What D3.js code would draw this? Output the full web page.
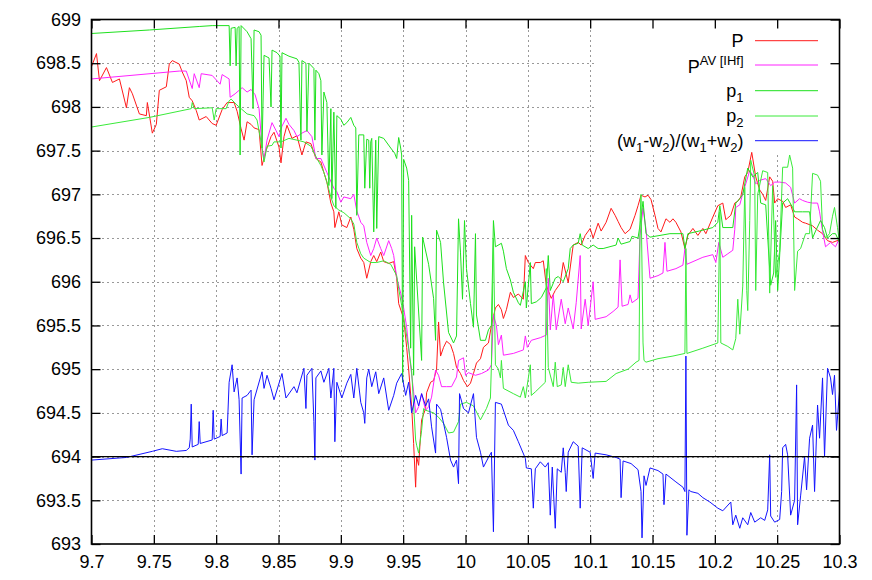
<!DOCTYPE html>
<html>
<head>
<meta charset="utf-8">
<script src="https://cdn.jsdelivr.net/npm/d3@7"></script>
<style>
  body { margin: 0; background: #fff; }
  svg { display: block; font-family: "Liberation Sans", Arial, Helvetica, sans-serif; }
</style>
</head>
<body>
<div id="chart"></div>
<script>
// axis ticks
const xTicks = [9.7, 9.75, 9.8, 9.85, 9.9, 9.95, 10, 10.05, 10.1, 10.15, 10.2, 10.25, 10.3];
const yTicks = [693, 693.5, 694, 694.5, 695, 695.5, 696, 696.5, 697, 697.5, 698, 698.5, 699];
const refLevel = 694;

// P
const seriesP = [
  [9.7000,698.46],[9.7040,698.61],[9.7064,698.30],[9.7120,698.45],[9.7168,698.28],[9.7224,698.32],
  [9.7280,697.99],[9.7304,698.22],[9.7328,698.15],[9.7384,697.92],[9.7440,697.90],[9.7448,698.05],
  [9.7488,697.70],[9.7520,697.80],[9.7544,698.19],[9.7600,698.23],[9.7624,698.49],[9.7648,698.53],
  [9.7704,698.49],[9.7728,698.40],[9.7760,698.30],[9.7784,698.11],[9.7808,698.07],[9.7840,697.96],
  [9.7864,697.85],[9.7920,697.89],[9.7968,697.81],[9.8000,697.79],[9.8048,697.97],[9.8088,698.05],
  [9.8144,698.05],[9.8168,697.95],[9.8200,697.75],[9.8224,697.62],[9.8248,697.83],[9.8280,697.80],
  [9.8304,697.76],[9.8344,697.74],[9.8368,697.33],[9.8400,697.50],[9.8440,697.66],[9.8464,697.71],
  [9.8504,697.54],[9.8520,697.36],[9.8544,697.66],[9.8568,697.79],[9.8608,697.64],[9.8648,697.67],
  [9.8688,697.45],[9.8720,697.60],[9.8760,697.58],[9.8800,697.41],[9.8840,697.37],[9.8864,697.25],
  [9.8888,697.14],[9.8920,696.90],[9.8944,696.80],[9.8952,696.62],[9.8984,696.80],[9.9008,696.65],
  [9.9048,696.62],[9.9080,696.74],[9.9104,696.60],[9.9128,696.38],[9.9160,696.27],[9.9184,696.22],
  [9.9208,696.04],[9.9240,696.23],[9.9264,696.30],[9.9288,696.23],[9.9320,696.34],[9.9344,696.23],
  [9.9384,696.21],[9.9424,696.23],[9.9448,696.04],[9.9464,695.75],[9.9504,695.58],[9.9528,695.25],
  [9.9544,695.00],[9.9568,694.57],[9.9584,694.15],[9.9600,693.65],[9.9608,694.00],[9.9624,693.90],
  [9.9640,694.25],[9.9648,694.42],[9.9680,694.55],[9.9688,694.73],[9.9720,694.85],[9.9744,694.87],
  [9.9768,695.00],[9.9784,695.54],[9.9800,695.15],[9.9824,695.25],[9.9848,695.32],[9.9880,695.28],
  [9.9904,695.18],[9.9928,695.02],[9.9960,694.95],[9.9984,694.87],[10.0016,694.80],[10.0040,694.84],
  [10.0064,694.95],[10.0088,695.07],[10.0120,695.12],[10.0144,695.25],[10.0184,695.30],[10.0208,695.50],
  [10.0240,695.70],[10.0264,695.74],[10.0288,695.68],[10.0304,695.58],[10.0328,695.68],[10.0360,695.88],
  [10.0384,695.82],[10.0424,695.86],[10.0464,695.80],[10.0480,696.30],[10.0504,696.22],[10.0544,696.15],
  [10.0560,696.22],[10.0600,696.22],[10.0624,696.24],[10.0648,695.96],[10.0688,695.81],[10.0720,695.90],
  [10.0760,695.98],[10.0784,696.22],[10.0824,695.99],[10.0864,696.42],[10.0904,696.45],[10.0928,696.42],
  [10.0960,696.53],[10.1000,696.61],[10.1024,696.50],[10.1064,696.67],[10.1088,696.58],[10.1128,696.68],
  [10.1168,696.84],[10.1200,696.76],[10.1224,696.69],[10.1248,696.62],[10.1280,696.55],[10.1320,696.60],
  [10.1360,696.76],[10.1384,696.87],[10.1408,696.99],[10.1440,696.97],[10.1464,696.99],[10.1488,696.94],
  [10.1520,696.76],[10.1544,696.61],[10.1568,696.57],[10.1608,696.72],[10.1640,696.68],[10.1664,696.72],
  [10.1688,696.68],[10.1728,696.57],[10.1760,696.38],[10.1784,696.53],[10.1824,696.61],[10.1864,696.53],
  [10.1904,696.61],[10.1928,696.55],[10.1984,696.74],[10.2024,696.87],[10.2064,696.90],[10.2088,696.71],
  [10.2104,696.73],[10.2128,696.76],[10.2160,696.90],[10.2184,696.92],[10.2208,696.97],[10.2240,697.20],
  [10.2264,697.25],[10.2296,697.48],[10.2328,697.20],[10.2360,697.05],[10.2384,697.00],[10.2408,696.93],
  [10.2440,697.20],[10.2464,697.15],[10.2480,696.90],[10.2504,696.95],[10.2544,696.92],[10.2568,696.85],
  [10.2608,696.88],[10.2640,696.74],[10.2664,696.72],[10.2704,696.68],[10.2728,696.67],[10.2784,696.64],
  [10.2824,696.59],[10.2864,696.55],[10.2904,696.47],[10.2944,696.45],[10.3000,696.48]
];

// P^AV [IHf]
const seriesPAV = [
  [9.7000,698.32],[9.7704,698.41],[9.7760,698.41],[9.7808,698.21],[9.7824,698.38],[9.7864,698.22],
  [9.7880,698.38],[9.7968,698.36],[9.8032,698.26],[9.8048,698.37],[9.8104,698.32],[9.8112,698.11],
  [9.8152,698.15],[9.8184,698.19],[9.8208,698.22],[9.8248,698.17],[9.8280,698.20],[9.8312,698.14],
  [9.8344,697.98],[9.8368,697.54],[9.8384,697.40],[9.8408,697.62],[9.8448,697.82],[9.8480,697.73],
  [9.8504,697.66],[9.8528,697.78],[9.8560,697.87],[9.8584,697.80],[9.8624,697.73],[9.8648,697.66],
  [9.8688,697.70],[9.8728,697.73],[9.8768,697.66],[9.8800,697.41],[9.8840,697.41],[9.8888,697.25],
  [9.8944,697.07],[9.8968,697.03],[9.9000,696.91],[9.9024,696.97],[9.9080,696.95],[9.9104,697.00],
  [9.9128,696.81],[9.9160,696.68],[9.9184,696.64],[9.9208,696.45],[9.9240,696.30],[9.9264,696.38],
  [9.9288,696.50],[9.9320,696.38],[9.9344,696.30],[9.9384,696.47],[9.9408,696.38],[9.9424,696.30],
  [9.9448,696.05],[9.9480,695.87],[9.9504,695.70],[9.9528,695.48],[9.9552,695.14],[9.9584,694.74],
  [9.9600,694.50],[9.9624,694.57],[9.9648,694.72],[9.9680,694.53],[9.9704,694.57],[9.9728,694.68],
  [9.9760,694.99],[9.9784,694.93],[9.9808,694.80],[9.9848,694.80],[9.9888,694.80],[9.9928,694.91],
  [9.9944,695.10],[9.9984,695.13],[10.0000,694.93],[10.0024,694.96],[10.0080,694.93],[10.0128,694.95],
  [10.0184,694.99],[10.0208,695.05],[10.0224,695.62],[10.0248,695.50],[10.0264,695.28],[10.0288,695.39],
  [10.0304,695.16],[10.0384,695.18],[10.0464,695.22],[10.0480,695.38],[10.0496,695.25],[10.0528,695.33],
  [10.0600,695.36],[10.0648,695.39],[10.0664,696.04],[10.0680,695.45],[10.0704,695.85],[10.0728,695.45],
  [10.0768,695.80],[10.0800,695.52],[10.0824,695.70],[10.0864,695.46],[10.0888,695.76],[10.0920,696.30],
  [10.0928,695.46],[10.0960,695.80],[10.0984,695.50],[10.1024,696.00],[10.1040,695.57],[10.1128,695.60],
  [10.1184,695.66],[10.1224,695.71],[10.1240,696.25],[10.1256,695.72],[10.1304,695.74],[10.1320,695.85],
  [10.1336,695.76],[10.1384,695.81],[10.1400,696.53],[10.1424,696.84],[10.1448,696.60],[10.1480,696.04],
  [10.1544,696.07],[10.1584,696.10],[10.1600,696.45],[10.1616,696.12],[10.1688,696.15],[10.1744,696.19],
  [10.1760,696.38],[10.1776,696.20],[10.1904,696.28],[10.1984,696.31],[10.2008,696.22],[10.2032,696.45],
  [10.2064,696.28],[10.2104,696.32],[10.2144,696.36],[10.2160,696.60],[10.2168,696.85],[10.2200,696.88],
  [10.2224,697.01],[10.2248,697.12],[10.2280,697.27],[10.2304,697.22],[10.2328,697.12],[10.2360,697.16],
  [10.2408,697.18],[10.2448,697.10],[10.2480,697.14],[10.2520,697.14],[10.2568,697.13],[10.2608,697.08],
  [10.2640,696.90],[10.2680,696.95],[10.2704,696.93],[10.2744,696.91],[10.2784,696.90],[10.2824,696.90],
  [10.2840,696.80],[10.2864,696.58],[10.2888,696.40],[10.2928,696.45],[10.2968,696.40],[10.3000,696.50]
];

// p1
const seriesP1 = [
  [9.7000,698.84],[9.7464,698.88],[9.7864,698.92],[9.7968,698.93],[9.8104,698.93],[9.8112,698.47],
  [9.8120,698.90],[9.8152,698.91],[9.8160,698.47],[9.8168,698.90],[9.8184,698.92],[9.8192,697.45],
  [9.8200,698.93],[9.8248,698.86],[9.8280,698.78],[9.8296,697.98],[9.8304,698.88],[9.8344,698.86],
  [9.8360,698.82],[9.8368,697.53],[9.8384,698.59],[9.8424,698.56],[9.8440,698.00],[9.8448,698.65],
  [9.8488,698.62],[9.8512,698.58],[9.8520,697.53],[9.8528,698.62],[9.8584,698.58],[9.8648,698.55],
  [9.8664,698.51],[9.8680,697.62],[9.8688,698.53],[9.8720,698.50],[9.8728,697.72],[9.8744,698.50],
  [9.8784,698.44],[9.8792,697.62],[9.8800,698.42],[9.8824,698.38],[9.8840,698.30],[9.8848,697.45],
  [9.8864,698.17],[9.8888,698.05],[9.8904,697.10],[9.8920,697.98],[9.8928,696.95],[9.8944,697.94],
  [9.8960,696.84],[9.8968,697.90],[9.9000,697.86],[9.9024,697.79],[9.9048,697.82],[9.9080,697.88],
  [9.9104,697.79],[9.9120,697.76],[9.9128,696.76],[9.9144,697.68],[9.9184,697.68],[9.9192,697.07],
  [9.9208,697.63],[9.9224,697.62],[9.9232,697.07],[9.9240,697.60],[9.9248,697.64],[9.9264,696.57],
  [9.9280,697.62],[9.9288,696.61],[9.9304,697.66],[9.9344,697.64],[9.9400,697.53],[9.9432,697.47],
  [9.9448,697.41],[9.9464,697.65],[9.9480,697.53],[9.9488,697.45],[9.9496,694.85],[9.9504,697.40],
  [9.9528,697.30],[9.9544,697.16],[9.9560,695.24],[9.9568,696.76],[9.9584,694.93],[9.9592,696.40],
  [9.9648,695.10],[9.9656,696.51],[9.9704,696.20],[9.9744,695.81],[9.9760,695.33],[9.9768,696.59],
  [9.9800,696.45],[9.9824,695.99],[9.9864,695.42],[9.9904,695.30],[9.9928,695.38],[9.9944,696.72],
  [9.9960,696.33],[9.9976,695.80],[9.9992,696.70],[10.0008,696.15],[10.0040,695.75],[10.0064,695.48],
  [10.0080,696.55],[10.0088,695.62],[10.0120,695.33],[10.0160,695.33],[10.0184,695.45],[10.0208,695.50],
  [10.0224,696.70],[10.0240,696.40],[10.0288,696.44],[10.0304,696.35],[10.0328,696.15],[10.0360,696.02],
  [10.0384,695.88],[10.0424,695.76],[10.0440,695.73],[10.0480,696.00],[10.0488,695.70],[10.0520,696.22],
  [10.0528,695.75],[10.0568,695.77],[10.0608,695.82],[10.0648,695.93],[10.0664,696.30],[10.0680,695.90],
  [10.0720,696.04],[10.0744,696.06],[10.0784,696.00],[10.0824,696.15],[10.0840,696.38],[10.0864,696.42],
  [10.0904,696.44],[10.0920,696.55],[10.0936,696.42],[10.0984,696.38],[10.1024,696.42],[10.1064,696.38],
  [10.1104,696.38],[10.1208,696.42],[10.1224,696.50],[10.1248,696.43],[10.1320,696.46],[10.1336,696.52],
  [10.1384,696.50],[10.1400,696.65],[10.1424,696.92],[10.1448,696.55],[10.1480,696.51],[10.1640,696.55],
  [10.1744,696.55],[10.1760,696.38],[10.1784,696.55],[10.1904,696.59],[10.1984,696.62],[10.2024,696.68],
  [10.2040,696.87],[10.2064,696.62],[10.2144,696.62],[10.2168,696.90],[10.2200,696.95],[10.2224,697.00],
  [10.2264,697.30],[10.2304,697.20],[10.2344,697.25],[10.2368,696.90],[10.2408,696.88],[10.2448,695.96],
  [10.2472,696.10],[10.2488,696.70],[10.2504,695.90],[10.2544,696.90],[10.2584,696.95],[10.2624,696.85],
  [10.2640,696.80],[10.2704,696.80],[10.2760,696.80],[10.2784,696.50],[10.2808,696.58],[10.2848,696.70],
  [10.2880,696.62],[10.2904,696.50],[10.2944,696.55],[10.2968,696.55],[10.3000,696.45]
];

// p2
const seriesP2 = [
  [9.7000,697.77],[9.7464,697.88],[9.7800,697.98],[9.7808,698.05],[9.7824,697.98],[9.7968,697.99],
  [9.7984,697.85],[9.8000,697.98],[9.8080,697.98],[9.8104,698.07],[9.8120,698.09],[9.8160,698.03],
  [9.8200,697.98],[9.8248,697.92],[9.8304,697.90],[9.8328,697.85],[9.8360,697.60],[9.8384,697.37],
  [9.8408,697.55],[9.8448,697.56],[9.8464,697.60],[9.8520,697.60],[9.8584,697.64],[9.8648,697.62],
  [9.8704,697.60],[9.8760,697.55],[9.8808,697.41],[9.8840,697.33],[9.8864,697.25],[9.8888,697.14],
  [9.8920,696.97],[9.8944,696.87],[9.8984,696.82],[9.9024,696.79],[9.9080,696.72],[9.9104,696.66],
  [9.9128,696.45],[9.9160,696.32],[9.9184,696.27],[9.9240,696.22],[9.9288,696.22],[9.9344,696.24],
  [9.9400,696.20],[9.9448,696.07],[9.9464,695.92],[9.9488,695.73],[9.9520,695.45],[9.9544,695.24],
  [9.9568,694.98],[9.9600,694.19],[9.9608,694.13],[9.9624,694.04],[9.9648,694.30],[9.9664,694.55],
  [9.9680,694.53],[9.9744,694.50],[9.9784,694.45],[9.9824,694.38],[9.9864,694.27],[9.9904,694.28],
  [9.9944,694.40],[9.9960,694.60],[10.0008,694.62],[10.0064,694.58],[10.0120,694.42],[10.0168,694.55],
  [10.0200,694.67],[10.0208,695.05],[10.0224,696.50],[10.0240,695.05],[10.0264,695.00],[10.0280,694.90],
  [10.0288,695.10],[10.0304,694.78],[10.0384,694.72],[10.0440,694.68],[10.0464,694.80],[10.0480,694.67],
  [10.0520,695.05],[10.0528,694.70],[10.0560,694.74],[10.0640,694.85],[10.0648,696.15],[10.0664,695.02],
  [10.0704,694.80],[10.0720,695.08],[10.0736,694.80],[10.0768,694.82],[10.0784,695.02],[10.0800,694.80],
  [10.0824,695.05],[10.0848,694.85],[10.0904,694.84],[10.0984,694.85],[10.1128,694.86],[10.1208,694.95],
  [10.1304,695.00],[10.1368,695.08],[10.1392,695.10],[10.1400,696.70],[10.1408,697.00],[10.1424,695.30],
  [10.1432,695.10],[10.1448,695.08],[10.1544,695.12],[10.1664,695.15],[10.1760,695.18],[10.1768,696.38],
  [10.1776,695.18],[10.1904,695.24],[10.2024,695.30],[10.2040,696.80],[10.2048,695.30],[10.2104,695.26],
  [10.2144,695.22],[10.2168,695.35],[10.2184,695.80],[10.2200,695.40],[10.2224,695.95],[10.2240,697.08],
  [10.2256,695.90],[10.2264,695.67],[10.2280,696.70],[10.2288,697.39],[10.2320,697.20],[10.2328,695.90],
  [10.2344,697.00],[10.2384,697.27],[10.2424,697.25],[10.2440,695.87],[10.2464,697.10],[10.2488,696.05],
  [10.2520,696.35],[10.2544,697.31],[10.2584,697.31],[10.2600,697.45],[10.2624,697.30],[10.2640,695.90],
  [10.2664,696.35],[10.2688,696.38],[10.2728,696.55],[10.2760,696.55],[10.2784,697.24],[10.2824,697.22],
  [10.2848,697.15],[10.2864,696.60],[10.2888,696.50],[10.2920,696.55],[10.2944,696.75],[10.2960,696.85],
  [10.2984,696.62],[10.3000,696.45]
];

// (w1-w2)/(w1+w2)
const seriesW = [
  [9.7000,693.96],[9.7280,693.99],[9.7488,694.06],[9.7568,694.09],[9.7680,694.06],[9.7760,694.07],
  [9.7784,694.10],[9.7792,694.20],[9.7800,694.60],[9.7808,694.11],[9.7856,694.14],[9.7864,694.40],
  [9.7872,694.15],[9.7968,694.19],[9.7976,694.53],[9.7984,694.20],[9.8032,694.23],[9.8040,694.43],
  [9.8048,694.24],[9.8088,694.27],[9.8104,694.85],[9.8128,695.05],[9.8144,694.74],[9.8168,694.90],
  [9.8184,694.65],[9.8200,693.80],[9.8208,694.67],[9.8248,694.70],[9.8280,694.76],[9.8288,694.02],
  [9.8304,694.65],[9.8368,694.97],[9.8384,694.78],[9.8408,694.93],[9.8440,694.78],[9.8464,694.65],
  [9.8528,694.95],[9.8560,694.67],[9.8624,694.80],[9.8648,694.73],[9.8704,695.01],[9.8720,694.55],
  [9.8728,694.93],[9.8768,695.01],[9.8784,694.40],[9.8792,693.96],[9.8800,694.90],[9.8840,694.98],
  [9.8864,694.85],[9.8904,695.01],[9.8920,694.67],[9.8944,695.01],[9.8952,694.17],[9.8968,694.85],
  [9.9008,694.67],[9.9048,694.84],[9.9080,694.94],[9.9104,694.67],[9.9128,695.01],[9.9160,694.62],
  [9.9184,694.50],[9.9192,694.38],[9.9208,694.90],[9.9224,695.00],[9.9248,694.80],[9.9280,694.97],
  [9.9304,694.72],[9.9344,694.90],[9.9384,694.53],[9.9424,694.70],[9.9448,694.84],[9.9488,694.95],
  [9.9520,694.70],[9.9544,694.85],[9.9568,694.50],[9.9600,694.70],[9.9624,694.58],[9.9648,694.72],
  [9.9680,694.58],[9.9704,694.66],[9.9728,694.34],[9.9760,694.04],[9.9768,694.60],[9.9800,694.54],
  [9.9848,694.22],[9.9880,693.96],[9.9904,693.88],[9.9928,693.96],[9.9944,693.69],[9.9952,694.72],
  [9.9984,694.55],[10.0024,694.50],[10.0064,694.72],[10.0088,694.22],[10.0120,694.05],[10.0144,693.88],
  [10.0184,693.99],[10.0208,694.05],[10.0224,693.14],[10.0240,694.62],[10.0288,694.60],[10.0344,694.36],
  [10.0384,694.30],[10.0424,694.17],[10.0480,693.98],[10.0488,693.87],[10.0528,693.86],[10.0544,693.41],
  [10.0560,693.86],[10.0600,693.94],[10.0640,693.88],[10.0664,693.93],[10.0680,693.33],[10.0696,693.88],
  [10.0720,693.18],[10.0736,693.86],[10.0768,693.82],[10.0784,694.10],[10.0800,693.82],[10.0808,693.60],
  [10.0824,694.05],[10.0864,694.17],[10.0904,694.12],[10.0920,693.41],[10.0936,694.10],[10.1000,694.05],
  [10.1024,693.75],[10.1040,694.04],[10.1128,694.02],[10.1208,693.99],[10.1240,693.97],[10.1248,693.53],
  [10.1264,693.95],[10.1328,693.92],[10.1360,693.88],[10.1384,693.85],[10.1408,693.60],[10.1416,693.07],
  [10.1432,693.78],[10.1448,693.67],[10.1480,693.87],[10.1544,693.84],[10.1584,693.80],[10.1592,693.45],
  [10.1608,693.80],[10.1688,693.71],[10.1744,693.65],[10.1760,693.60],[10.1768,695.15],[10.1776,693.10],
  [10.1792,693.62],[10.1808,693.60],[10.1864,693.58],[10.1904,693.53],[10.1960,693.48],[10.2024,693.41],
  [10.2064,693.38],[10.2128,693.48],[10.2144,693.22],[10.2168,693.33],[10.2200,693.18],[10.2224,693.30],
  [10.2264,693.22],[10.2288,693.36],[10.2320,693.25],[10.2368,693.30],[10.2400,693.27],[10.2424,693.39],
  [10.2440,694.02],[10.2448,693.32],[10.2480,693.25],[10.2520,693.28],[10.2536,693.60],[10.2544,694.10],
  [10.2568,694.14],[10.2584,694.02],[10.2608,693.33],[10.2640,693.50],[10.2656,694.82],[10.2664,693.22],
  [10.2688,693.55],[10.2720,694.00],[10.2736,693.62],[10.2760,694.21],[10.2784,694.36],[10.2800,693.60],
  [10.2824,694.59],[10.2840,694.21],[10.2864,694.90],[10.2880,694.00],[10.2904,695.01],[10.2928,694.90],
  [10.2944,694.71],[10.2960,694.93],[10.2976,694.30],[10.3000,694.75]
];

const seriesList = [seriesP, seriesPAV, seriesP1, seriesP2, seriesW];
const seriesColors = ["#ff1a1a", "#ff22ff", "#1ee01e", "#3aea3a", "#1414ff"];
// legend labels, split into normal / sub / sup parts
const legendLabels = [
  [["P", ""]],
  [["P", ""], ["AV [IHf]", "sup"]],
  [["p", ""], ["1", "sub"]],
  [["p", ""], ["2", "sub"]],
  [["(w", ""], ["1", "sub"], ["-w", ""], ["2", "sub"], [")/(w", ""], ["1", "sub"], ["+w", ""], ["2", "sub"], [")", ""]]
];

class TracePlot {
    constructor(container) {
        this.container = container;
        this.init();
    }

    init() {
        this.margin = { top: 19.5, right: 32.5, bottom: 36, left: 91.5 };
        this.width = 748;
        this.height = 524.5;

        this.createSvg();
        this.createScales();
        this.render();
    }

    createSvg() {
        this.svg = d3.select(this.container)
            .append("svg")
            .attr("width", this.width + this.margin.left + this.margin.right)
            .attr("height", this.height + this.margin.top + this.margin.bottom)
            .append("g")
            .attr("transform", `translate(${this.margin.left},${this.margin.top})`);
    }

    createScales() {
        this.xScale = d3.scaleLinear().domain([9.7, 10.3]).range([0, this.width]);
        this.yScale = d3.scaleLinear().domain([693, 699]).range([this.height, 0]);
    }

    render() {
        const x = this.xScale, y = this.yScale;

        this.svg.append("defs")
            .append("clipPath")
            .attr("id", "plot-area")
            .append("rect")
            .attr("width", this.width)
            .attr("height", this.height);

        // dotted grid, snapped to whole pixels so the dots stay crisp
        const snapX = v => Math.round(x(v) + this.margin.left) + 0.5 - this.margin.left;
        const snapY = v => Math.round(y(v) + this.margin.top) + 0.5 - this.margin.top;
        const grid = this.svg.append("g")
            .attr("stroke", "#999")
            .attr("stroke-width", 1)
            .attr("stroke-dasharray", "2,3")
            .attr("shape-rendering", "crispEdges");
        grid.selectAll(".gy")
            .data(yTicks.slice(1, -1))
            .enter().append("line")
            .attr("x1", 0).attr("x2", this.width)
            .attr("y1", snapY).attr("y2", snapY);
        grid.selectAll(".gx")
            .data(xTicks.slice(1, -1))
            .enter().append("line")
            .attr("x1", snapX).attr("x2", snapX)
            .attr("y1", 0).attr("y2", this.height);

        // key area hides the grid
        this.svg.append("rect")
            .attr("x", 502.5).attr("y", 0)
            .attr("width", this.width - 502.5).attr("height", 132.5)
            .attr("fill", "#fff");

        const line = d3.line().x(d => x(d[0])).y(d => y(d[1]));
        const plotArea = this.svg.append("g").attr("clip-path", "url(#plot-area)");

        plotArea.selectAll(".trace")
            .data(seriesList)
            .enter().append("path")
            .attr("d", line)
            .attr("fill", "none")
            .attr("stroke", (d, i) => seriesColors[i])
            .attr("stroke-width", 1)
            .attr("stroke-linejoin", "round");

        plotArea.append("line")
            .attr("x1", 0).attr("x2", this.width)
            .attr("y1", y(refLevel)).attr("y2", y(refLevel))
            .attr("stroke", "#000")
            .attr("stroke-width", 1.4);

        // axes: inward ticks on all sides
        const fmt = d => String(+d.toFixed(2));
        const styleAxis = g => {
            g.select(".domain").remove();
            g.selectAll(".tick line").attr("stroke", "#000").attr("stroke-width", 1.3);
            g.selectAll("text").attr("font-size", 18).attr("fill", "#000")
                .attr("font-family", "\"Liberation Sans\", Arial, sans-serif");
        };

        this.svg.append("g")
            .attr("transform", `translate(0,${this.height})`)
            .call(d3.axisBottom(x).tickValues(xTicks).tickFormat(fmt).tickSize(-9).tickPadding(11))
            .call(styleAxis);
        this.svg.append("g")
            .call(d3.axisTop(x).tickValues(xTicks).tickFormat("").tickSize(-9))
            .call(styleAxis);
        this.svg.append("g")
            .call(d3.axisLeft(y).tickValues(yTicks).tickFormat(fmt).tickSize(-9).tickPadding(10.5))
            .call(styleAxis);
        this.svg.append("g")
            .attr("transform", `translate(${this.width},0)`)
            .call(d3.axisRight(y).tickValues(yTicks).tickFormat("").tickSize(-9))
            .call(styleAxis);

        this.svg.append("rect")
            .attr("width", this.width)
            .attr("height", this.height)
            .attr("fill", "none")
            .attr("stroke", "#000")
            .attr("stroke-width", 1.6);

        this.renderLegend();
    }

    renderLegend() {
        const rowY = [21.2, 45.5, 71.2, 96.5, 121.2];
        const textRight = 652;
        const key = this.svg.append("g");

        legendLabels.forEach((parts, i) => {
            key.append("line")
                .attr("x1", 663.5).attr("x2", 726.5)
                .attr("y1", rowY[i]).attr("y2", rowY[i])
                .attr("stroke", seriesColors[i])
                .attr("stroke-width", 1);

            const text = key.append("text")
                .attr("x", textRight)
                .attr("y", rowY[i] + (i === 1 ? 8 : 6))
                .attr("text-anchor", "end")
                .attr("font-size", 18)
                .attr("fill", "#000");

            let shift = 0;
            parts.forEach(([t, kind]) => {
                const target = kind === "sup" ? -8 : kind === "sub" ? 5 : 0;
                text.append("tspan")
                    .attr("dy", target - shift)
                    .attr("font-size", kind ? 13 : 18)
                    .text(t);
                shift = target;
            });
        });
    }
}

new TracePlot("#chart");
</script>
</body>
</html>
